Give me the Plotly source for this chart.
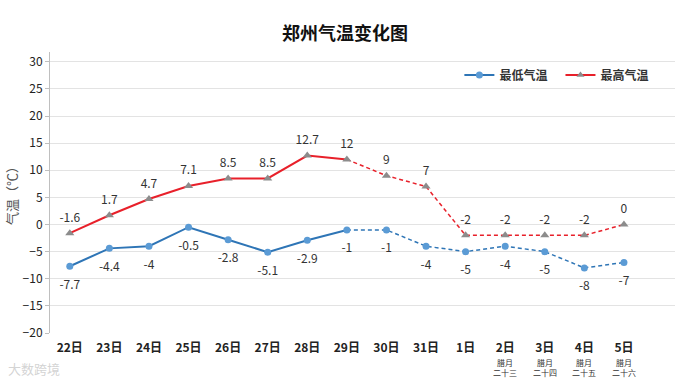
import plotly.graph_objects as go

days = ["22日", "23日", "24日", "25日", "26日", "27日", "28日", "29日", "30日", "31日",
        "1日", "2日", "3日", "4日", "5日"]
lunar = ["", "", "", "", "", "", "", "", "", "", "", "腊月<br>二十三", "腊月<br>二十四", "腊月<br>二十五", "腊月<br>二十六"]
low = [-7.7, -4.4, -4, -0.5, -2.8, -5.1, -2.9, -1, -1, -4, -5, -4, -5, -8, -7]
high = [-1.6, 1.7, 4.7, 7.1, 8.5, 8.5, 12.7, 12, 9, 7, -2, -2, -2, -2, 0]
solid_end = 7  # index of 29日, last solid point
yticks = list(range(-20, 31, 5))

x = list(range(len(days)))
ticktext = ["<b>" + d + "</b>" for d in days]

BLUE_LINE = "#2e75b6"
BLUE_MK = "#5b9bd5"
RED = "#e8202a"
GRAY_MK = "#8c8c8c"
DASH = "4px,3px"
LABEL_FONT = dict(size=12, color="#333333", family="Noto Sans CJK SC")

fig = go.Figure()
fig.add_trace(go.Scatter(x=x[solid_end:], y=low[solid_end:], mode="lines",
                         line=dict(color=BLUE_LINE, width=1.5, dash=DASH),
                         showlegend=False, hoverinfo="skip"))
fig.add_trace(go.Scatter(x=x[solid_end:], y=high[solid_end:], mode="lines",
                         line=dict(color=RED, width=1.5, dash=DASH),
                         showlegend=False, hoverinfo="skip"))
fig.add_trace(go.Scatter(x=x[:solid_end + 1], y=low[:solid_end + 1], mode="lines",
                         line=dict(color=BLUE_LINE, width=2),
                         showlegend=False, hoverinfo="skip"))
fig.add_trace(go.Scatter(x=x[:solid_end + 1], y=high[:solid_end + 1], mode="lines",
                         line=dict(color=RED, width=2),
                         showlegend=False, hoverinfo="skip"))
fig.add_trace(go.Scatter(x=x, y=low, mode="markers", name="最低气温",
                         marker=dict(color=BLUE_MK, size=7, symbol="circle"),
                         showlegend=False))
fig.add_trace(go.Scatter(x=x, y=high, mode="markers", name="最高气温",
                         marker=dict(color=GRAY_MK, size=8, symbol="triangle-up"),
                         showlegend=False))
fig.add_trace(go.Scatter(x=x, y=low, mode="markers+text",
                         marker=dict(color="rgba(0,0,0,0)", size=20),
                         text=[f"{v:g}" for v in low], textposition="bottom center",
                         textfont=LABEL_FONT, showlegend=False, hoverinfo="skip"))
fig.add_trace(go.Scatter(x=x, y=high, mode="markers+text",
                         marker=dict(color="rgba(0,0,0,0)", size=12),
                         text=[f"{v:g}" for v in high], textposition="top center",
                         textfont=LABEL_FONT, showlegend=False, hoverinfo="skip"))
fig.add_trace(go.Scatter(x=[None], y=[None], mode="lines+markers",
                         name="<b>最低气温</b>\u00a0\u00a0\u00a0",
                         line=dict(color=BLUE_LINE, width=2),
                         marker=dict(color=BLUE_MK, size=7, symbol="circle")))
fig.add_trace(go.Scatter(x=[None], y=[None], mode="lines+markers", name="<b>最高气温</b>",
                         line=dict(color=RED, width=2),
                         marker=dict(color=GRAY_MK, size=7, symbol="triangle-up")))

fig.update_layout(
    width=690, height=383,
    margin=dict(l=50, r=15, t=52, b=50),
    paper_bgcolor="white", plot_bgcolor="white",
    font=dict(family="Noto Sans CJK SC", color="#222222"),
    title=dict(text="<b>郑州气温变化图</b>", x=0.5, xanchor="center", y=0.912, yanchor="middle",
               yref="container",
               font=dict(size=18, color="#111111", family="Noto Sans CJK SC")),
    legend=dict(orientation="h", x=0.655, y=0.918, xanchor="left", yanchor="middle",
                font=dict(size=12, color="#333333"), bgcolor="rgba(0,0,0,0)",
                itemwidth=30, tracegroupgap=0),
    xaxis=dict(range=[-0.5, 15.29], tickvals=x, ticktext=ticktext, showgrid=False,
               zeroline=False, showline=False, ticks="", automargin=False,
               ticklabelstandoff=6,
               tickfont=dict(size=12, color="#222222")),
    yaxis=dict(range=[-20, 31.8], tickvals=yticks, showgrid=True, gridcolor="#e3e3e3",
               gridwidth=1, zeroline=False, showline=True, linecolor="#bfbfbf",
               ticks="outside", ticklen=4, tickcolor="#bfbfbf", automargin=False,
               tickfont=dict(size=12, color="#222222"),
               tickprefix="<b>", ticksuffix="</b>",
               title=dict(text="气温（℃）", font=dict(size=13, color="#555555"), standoff=2)),
    showlegend=True,
)
for i, l in enumerate(lunar):
    if l:
        fig.add_annotation(text=l, x=x[i], xref="x", yref="paper", y=-0.08,
                           xanchor="center", yanchor="top", showarrow=False,
                           font=dict(size=8, color="#333333"))
fig.add_annotation(text="大数跨境", xref="paper", yref="paper", x=-0.07, y=-0.125,
                   xanchor="left", yanchor="middle", showarrow=False,
                   font=dict(size=13, color="rgba(200,200,200,0.8)"))

fig.write_html("out.html", config={"displayModeBar": False},
               post_script="document.body.style.margin='0';document.body.style.overflow='hidden';")
